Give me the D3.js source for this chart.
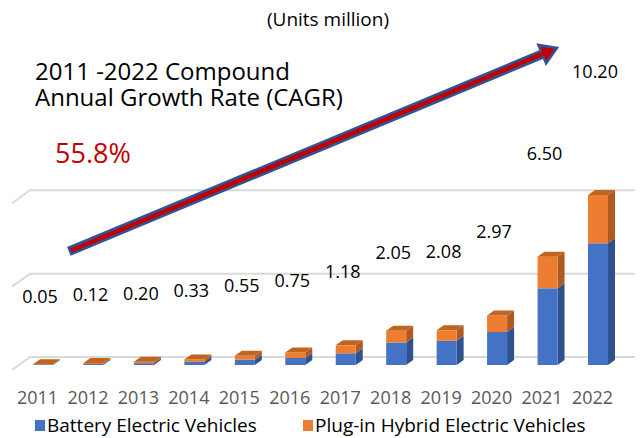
<!DOCTYPE html>
<html>
<head>
<meta charset="utf-8">
<script src="https://cdn.jsdelivr.net/npm/d3@7"></script>
<style>
  html, body { margin: 0; padding: 0; background: #fff; }
  svg { display: block; font-family: "Open Sans", "Noto Sans", sans-serif; }
</style>
</head>
<body>
<svg id="chart" width="641" height="438"></svg>
<script>
const years = ["2011", "2012", "2013", "2014", "2015", "2016", "2017", "2018", "2019", "2020", "2021", "2022"];
const bev  = [0.04, 0.06, 0.11, 0.19, 0.32, 0.42, 0.70, 1.35, 1.45, 1.98, 4.60, 7.30];
const phev = [0.01, 0.06, 0.09, 0.14, 0.23, 0.33, 0.48, 0.70, 0.63, 0.99, 1.90, 2.90];
const totals = ["0.05", "0.12", "0.20", "0.33", "0.55", "0.75", "1.18", "2.05", "2.08", "2.97", "6.50", "10.20"];
const gridValues = [0, 5, 10];
const seriesNames = ["Battery Electric Vehicles", "Plug-in Hybrid Electric Vehicles"];

const svg = d3.select("#chart");

const x = d3.scalePoint().domain(years).range([43, 598]);
const y = d3.scaleLinear().domain([0, 10]).range([365, 198.3]);
const labelY = d3.scaleLinear().domain([0, 10.2]).range([297, 71]);

const BW = 20, DX = 7, DY = 5;

// grid lines on the back wall
const grid = svg.append("g");
gridValues.forEach(v => {
    let gy = y(v) - 8;
    grid.append("path")
        .attr("d", `M12,${gy + 13} L30,${gy} L635,${gy}`)
        .attr("fill", "none")
        .attr("stroke", "#d9d9d9")
        .attr("stroke-width", 2);
});

// 3d bars
const bars = svg.append("g");
years.forEach((yr, i) => {
    let cx = x(yr), x0 = cx - BW / 2, x1 = cx + BW / 2;
    let yb = y(0), ym = y(bev[i]), yt = y(bev[i] + phev[i]);
    // side faces
    bars.append("path")
        .attr("d", `M${x1},${yb} L${x1 + DX},${yb - DY} L${x1 + DX},${ym - DY} L${x1},${ym} Z`)
        .attr("fill", "#2f528f");
    bars.append("path")
        .attr("d", `M${x1},${ym} L${x1 + DX},${ym - DY} L${x1 + DX},${yt - DY} L${x1},${yt} Z`)
        .attr("fill", "#ae5a21");
    // front faces
    bars.append("rect")
        .attr("x", x0).attr("y", ym)
        .attr("width", BW).attr("height", yb - ym)
        .attr("fill", "#4472c4");
    bars.append("rect")
        .attr("x", x0).attr("y", yt)
        .attr("width", BW).attr("height", ym - yt)
        .attr("fill", "#ed7d31");
    // top face
    bars.append("path")
        .attr("d", `M${x0},${yt} L${x0 + DX},${yt - DY} L${x1 + DX},${yt - DY} L${x1},${yt} Z`)
        .attr("fill", "#c0651f");
});

// year axis
const axis = svg.append("g")
    .attr("transform", "translate(-6,391)")
    .call(d3.axisBottom(x).tickSize(0).tickPadding(0));
axis.select(".domain").remove();
axis.selectAll("text")
    .attr("fill", "#595959")
    .style("font-size", "18px")
    .style("font-family", "\"Open Sans\", \"Noto Sans\", sans-serif");

// value labels
svg.append("g").selectAll("text")
    .data(years)
    .join("text")
    .attr("x", d => x(d) - 3)
    .attr("y", (d, i) => labelY(+totals[i]))
    .attr("text-anchor", "middle")
    .attr("dominant-baseline", "central")
    .attr("fill", "#000")
    .style("font-size", "18px")
    .text((d, i) => totals[i]);

// CAGR arrow
const ax0 = 70, ay0 = 251, ax1 = 557, ay1 = 48;
const len = Math.hypot(ax1 - ax0, ay1 - ay0);
const ang = Math.atan2(ay1 - ay0, ax1 - ax0) * 180 / Math.PI;
const hl = 16, hw = 10, bw = 3.5;
svg.append("path")
    .attr("transform", `translate(${ax0},${ay0}) rotate(${ang})`)
    .attr("d", `M0,${-bw} L${len - hl},${-bw} L${len - hl},${-hw} L${len},0 L${len - hl},${hw} L${len - hl},${bw} L0,${bw} Z`)
    .attr("fill", "#c00000")
    .attr("stroke", "#2f5597")
    .attr("stroke-width", 2.5)
    .attr("stroke-linejoin", "miter");

// annotations
svg.append("text")
    .attr("x", 328).attr("y", 26)
    .attr("text-anchor", "middle")
    .style("font-size", "19px")
    .text("(Units million)");
const title = svg.append("text")
    .style("font-size", "24px");
title.append("tspan").attr("x", 35).attr("y", 80).text("2011 -2022 Compound");
title.append("tspan").attr("x", 35).attr("y", 106).text("Annual Growth Rate (CAGR)");
svg.append("text")
    .attr("x", 55).attr("y", 163)
    .attr("fill", "#c00000")
    .style("font-size", "27px")
    .text("55.8%");

// legend
const legend = svg.append("g");
const colors = ["#4472c4", "#ed7d31"];
const legendX = [35, 303];
seriesNames.forEach((name, i) => {
    legend.append("rect")
        .attr("x", legendX[i]).attr("y", 420)
        .attr("width", 10).attr("height", 11)
        .attr("fill", colors[i]);
    legend.append("text")
        .attr("x", legendX[i] + 12).attr("y", 432)
        .style("font-size", "19px")
        .attr("fill", "#000")
        .text(name);
});
</script>
</body>
</html>
